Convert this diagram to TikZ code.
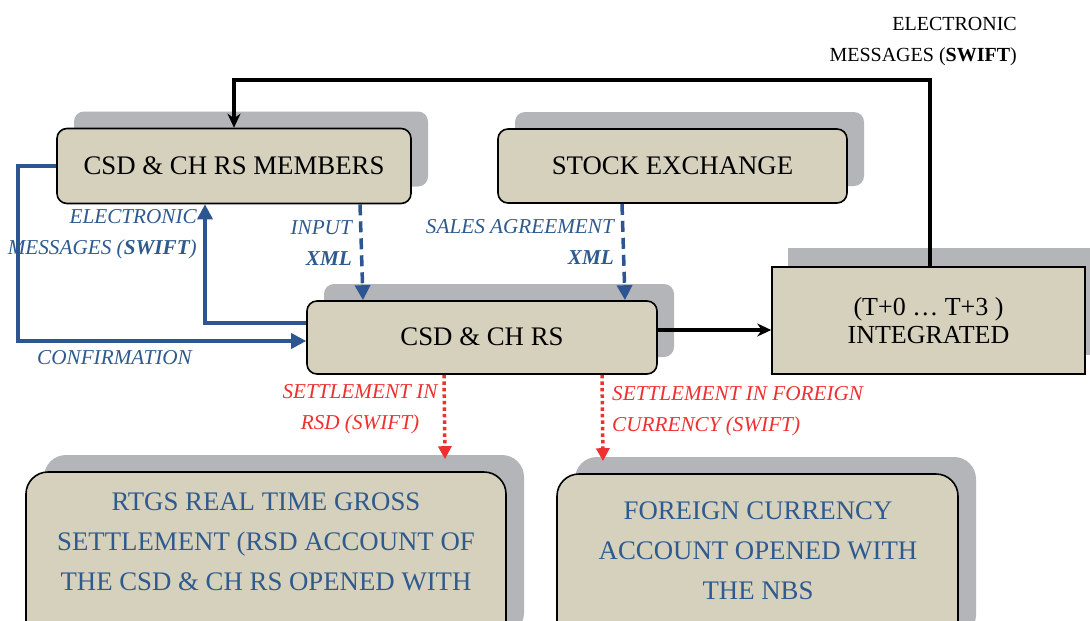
\documentclass[tikz,border=0pt]{standalone}
\usepackage{fontspec}
\setmainfont{Liberation Serif}
\usetikzlibrary{arrows.meta,shadows,calc}
\definecolor{boxfill}{HTML}{D6D1BD}
\definecolor{shadowgray}{HTML}{B3B5B8}
\definecolor{lblue}{HTML}{2C5592}
\definecolor{tblue}{HTML}{2F5A8E}
\definecolor{lred}{HTML}{EE3030}
\begin{document}
\begin{tikzpicture}[x=1pt,y=-1pt,
  box/.style={draw=black,line width=1.6pt,fill=boxfill,rounded corners=10pt,inner sep=0pt,font=\fontsize{26.8}{28}\selectfont},
  shad/.style={drop shadow={shadow xshift=17pt,shadow yshift=17pt,fill=shadowgray,opacity=1}},
  bigshad/.style={drop shadow={shadow xshift=18pt,shadow yshift=17pt,fill=shadowgray,opacity=1}},
  btext/.style={align=center,text=tblue,font=\fontsize{26.8}{40}\selectfont,inner sep=0pt},
  blbl/.style={text=tblue,font=\fontsize{21.2}{31}\selectfont\itshape,inner sep=0pt},
  rlbl/.style={text=lred,font=\fontsize{21.2}{31}\selectfont\itshape,inner sep=0pt},
  klbl/.style={text=black,font=\fontsize{20}{31}\selectfont,inner sep=0pt},
  blk/.style={draw=black,line width=3.5pt,-{Stealth[length=14pt,width=13pt]}},
  bl/.style={draw=lblue,line width=3.5pt,-{Triangle[length=15pt,width=15pt]}},
  bldash/.style={bl,dash pattern=on 11pt off 6pt},
  rd/.style={draw=lred,line width=3.5pt,dash pattern=on 3.5pt off 3pt,-{Triangle[length=13pt,width=13pt]}}
]
\useasboundingbox (0,0) rectangle (1090,621);
\fill[white] (0,0) rectangle (1090,621);

% boxes
\node[box,shad,minimum width=354pt,minimum height=75pt] (mem) at (234,166) {\raisebox{1.5pt}{CSD \& CH RS MEMBERS}};
\node[box,shad,minimum width=349pt,minimum height=74pt] (stock) at (672.5,166) {\raisebox{1.5pt}{STOCK EXCHANGE}};
\node[box,shad,minimum width=350pt,minimum height=73pt] (csd) at (482,337.5) {\raisebox{1.5pt}{CSD \& CH RS}};
\node[box,rounded corners=0pt,drop shadow={shadow xshift=16pt,shadow yshift=19pt,fill=shadowgray,opacity=1},
      minimum width=313pt,minimum height=107pt,align=center,font=\fontsize{26}{31}\selectfont] (integ) at (928.5,320.5) {\raisebox{-3pt}{(T+0 … T+3 )}\\INTEGRATED};
\node[box,bigshad,rounded corners=22pt,minimum width=480pt,minimum height=180pt] (rtgs) at (266,562) {};
\node[box,bigshad,rounded corners=22pt,minimum width=401pt,minimum height=180pt] (forex) at (757.5,564) {};
\node[btext] (rtgsT) at (266,542) {RTGS REAL TIME GROSS\\SETTLEMENT (RSD ACCOUNT OF\\THE CSD \& CH RS OPENED WITH};
\node[btext] (forexT) at (758,551) {FOREIGN CURRENCY\\ACCOUNT OPENED WITH\\THE NBS};

% helper coordinates
\coordinate (top) at (0,80);
\coordinate (lx) at (18,0);
\coordinate (r1) at ([yshift=12pt]rtgs.north);
\coordinate (r2) at ([yshift=12pt]forex.north);

% black connectors
\draw[blk] ([xshift=1.5pt]integ.north) |- (mem.north |- top) -- (mem.north);
\draw[blk] ([yshift=7.5pt]csd.east) -- ([yshift=7.5pt]csd.east -| integ.west);

% blue connectors
\draw[bl] (mem.west) -- (lx |- mem.west) |- ([yshift=-3.5pt]csd.west);
\draw[bl] ([yshift=14.5pt]csd.west) -| ([xshift=-29pt]mem.south);
\draw[bldash] ([xshift=126pt]mem.south) -- ([xshift=-119pt]csd.north);
\draw[bldash] ([xshift=-50.5pt]stock.south) -- ([xshift=143pt]csd.north);

% red connectors
\draw[rd] ([xshift=-38pt]csd.south) -- ([xshift=-37pt]csd.south |- r1);
\draw[rd] ([xshift=120pt]csd.south) -- ([xshift=121pt]csd.south |- r2);

% labels
\node[klbl,anchor=east,align=right] (lblTop) at (1017,42) {ELECTRONIC\\MESSAGES (\textbf{SWIFT})};
\node[blbl,anchor=east,align=right] (lblEl) at (197,234) {ELECTRONIC\\MESSAGES (\textbf{SWIFT})};
\node[blbl,anchor=west] (lblConf) at (37,358) {CONFIRMATION};
\node[blbl,anchor=east,align=right] (lblIn) at (352,243) {INPUT\\\textbf{XML}};
\node[blbl,anchor=east,align=right] (lblSales) at (614,242) {SALES AGREEMENT\\\textbf{XML}};
\node[rlbl,align=center] (lblRsd) at (360,409) {SETTLEMENT IN\\RSD (SWIFT)};
\node[rlbl,anchor=west,align=left] (lblFx) at (612,411) {SETTLEMENT IN FOREIGN\\CURRENCY (SWIFT)};
\end{tikzpicture}
\end{document}
